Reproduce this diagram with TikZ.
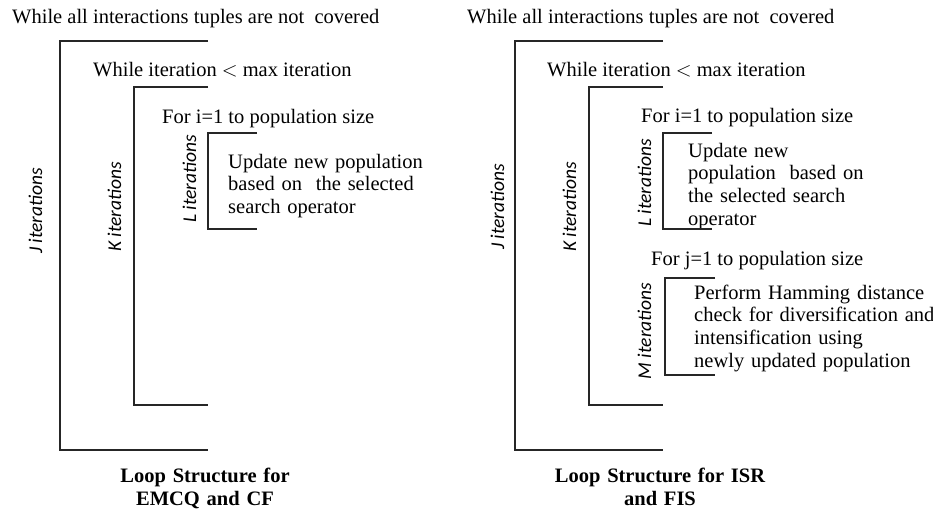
\documentclass[tikz,border=0pt]{standalone}
\usepackage{fontspec}
\setmainfont{Liberation Serif}
\newfontfamily\iterfont{Carlito}
\begin{document}
\begin{tikzpicture}[x=1pt,y=-1pt,
  txt/.style={inner sep=0pt,anchor=base west,font=\fontsize{20.5}{22.7}\selectfont},
  blocktxt/.style={txt,text width=260pt,align=left},
  iterlbl/.style={inner sep=0pt,anchor=base,rotate=90,font=\iterfont\itshape\fontsize{19.5}{22}\selectfont},
  caption/.style={inner sep=0pt,anchor=base,text width=320pt,align=center,font=\bfseries\fontsize{20.5}{23}\selectfont},
  bracket/.style={draw=black!85,line width=1.1pt}]
\path[use as bounding box] (0,0) rectangle (933,508);

% ---------------- left loop structure ----------------
\node[txt] (lw1) at (12,24) {While all interactions tuples are not\ \ covered};
\node[txt] (lw2) at (93,77) {While iteration $<$ max iteration};
\node[txt] (lf1) at (162,123) {For i=1 to population size};
\node[blocktxt] (lu) at (228,168) {Update new population\\based on\ \ the selected\\search operator};

\coordinate (lJa) at (208,41);  \coordinate (lJb) at (60,41);
\coordinate (lJc) at (60,450);  \coordinate (lJd) at (208,450);
\coordinate (lKa) at (208,87);  \coordinate (lKb) at (134,87);
\coordinate (lKc) at (134,405); \coordinate (lKd) at (208,405);
\coordinate (lLa) at (257,133); \coordinate (lLb) at (208,133);
\coordinate (lLc) at (208,229); \coordinate (lLd) at (257,229);
\draw[bracket] (lJa) -- (lJb) -- (lJc) -- (lJd);
\draw[bracket] (lKa) -- (lKb) -- (lKc) -- (lKd);
\draw[bracket] (lLa) -- (lLb) -- (lLc) -- (lLd);

\node[iterlbl] (lJ) at (42,211) {J iterations};
\node[iterlbl] (lK) at (121,207) {K iterations};
\node[iterlbl] (lL) at (196,179) {L iterations};

\node[caption] (lcap) at (205,482) {Loop Structure for\\EMCQ and CF};

% ---------------- right loop structure ----------------
\node[txt] (rw1) at (467,24) {While all interactions tuples are not\ \ covered};
\node[txt] (rw2) at (547,77) {While iteration $<$ max iteration};
\node[txt] (rf1) at (641,122) {For i=1 to population size};
\node[blocktxt] (ru) at (688,157) {Update new\\population\ \ based on\\the selected search\\operator};
\node[txt] (rf2) at (651,265) {For j=1 to population size};
\node[blocktxt] (rp) at (694,299) {Perform Hamming distance\\check for diversification and\\intensification using\\newly updated population};

\coordinate (rJa) at (663,41);  \coordinate (rJb) at (515,41);
\coordinate (rJc) at (515,450); \coordinate (rJd) at (663,450);
\coordinate (rKa) at (663,87);  \coordinate (rKb) at (589,87);
\coordinate (rKc) at (589,405); \coordinate (rKd) at (663,405);
\coordinate (rLa) at (712,133); \coordinate (rLb) at (663,133);
\coordinate (rLc) at (663,229); \coordinate (rLd) at (712,229);
\coordinate (rMa) at (715,278); \coordinate (rMb) at (665,278);
\coordinate (rMc) at (665,375); \coordinate (rMd) at (715,375);
\draw[bracket] (rJa) -- (rJb) -- (rJc) -- (rJd);
\draw[bracket] (rKa) -- (rKb) -- (rKc) -- (rKd);
\draw[bracket] (rLa) -- (rLb) -- (rLc) -- (rLd);
\draw[bracket] (rMa) -- (rMb) -- (rMc) -- (rMd);

\node[iterlbl] (rJ) at (504,207) {J iterations};
\node[iterlbl] (rK) at (576,207) {K iterations};
\node[iterlbl] (rL) at (651,183) {L iterations};
\node[iterlbl] (rM) at (651,331) {M iterations};

\node[caption] (rcap) at (660,482) {Loop Structure for ISR\\and FIS};
\end{tikzpicture}
\end{document}
